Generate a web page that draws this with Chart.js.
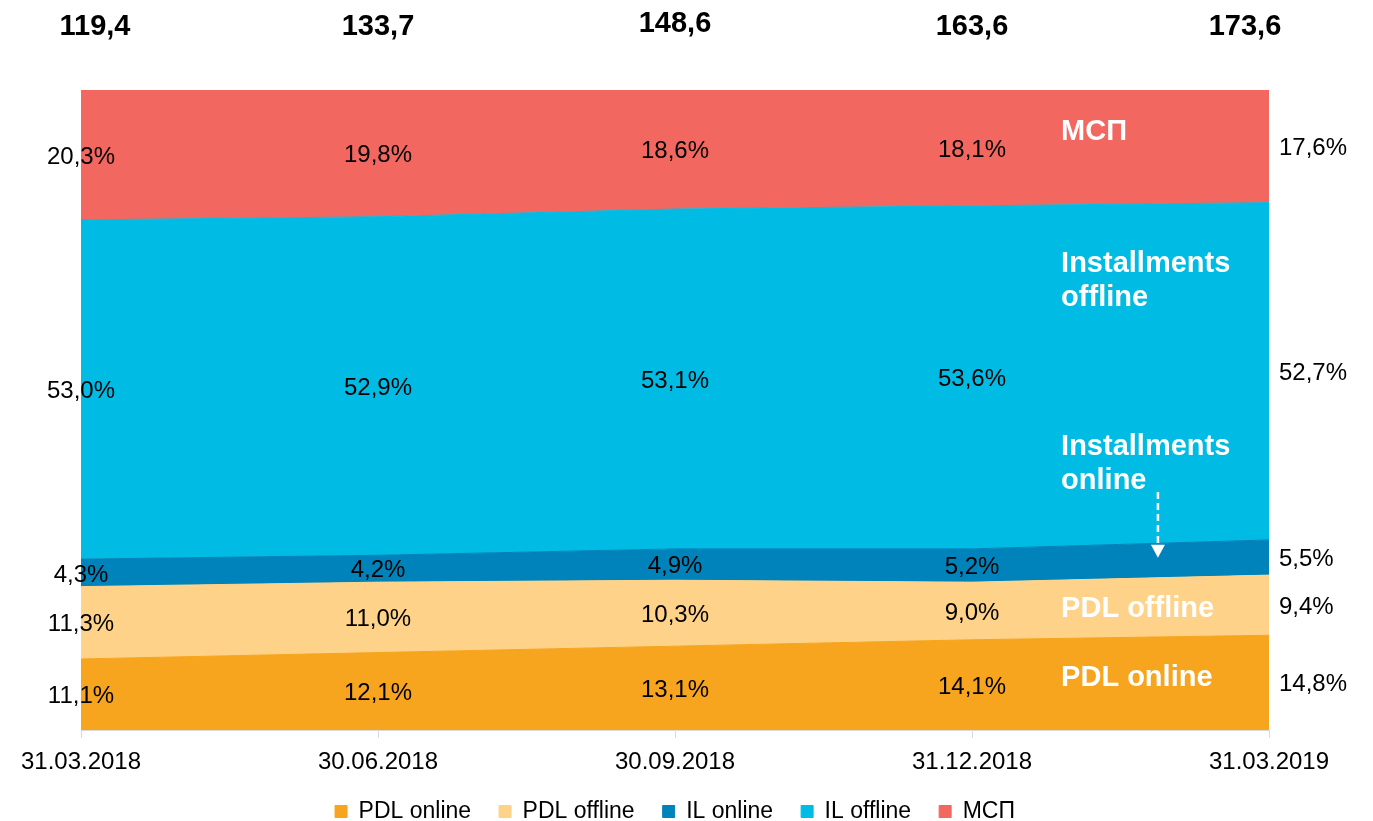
<!DOCTYPE html>
<html>
<head>
<meta charset="utf-8">
<script src="https://cdn.jsdelivr.net/npm/chart.js@4.4.1/dist/chart.umd.min.js"></script>
<style>
  html, body { margin: 0; padding: 0; background: #fff; }
  #wrap { width: 1373px; height: 821px; }
</style>
</head>
<body>
<div id="wrap"><canvas id="chart" width="1373" height="821"></canvas></div>
<script>
// Portfolio structure, share of total (%)
const dates = ["31.03.2018", "30.06.2018", "30.09.2018", "31.12.2018", "31.03.2019"];
const totals = ["119,4", "133,7", "148,6", "163,6", "173,6"];

const pdlOnline = [11.1, 12.1, 13.1, 14.1, 14.8];
const pdlOffline = [11.3, 11.0, 10.3, 9.0, 9.4];
const ilOnline = [4.3, 4.2, 4.9, 5.2, 5.5];
const ilOffline = [53.0, 52.9, 53.1, 53.6, 52.7];
const msp = [20.3, 19.8, 18.6, 18.1, 17.6];

const FONT = '"Liberation Sans", Arial, sans-serif';

function area(label, data, color, fill) {
  return {
    label,
    data,
    fill,
    backgroundColor: color,
    borderColor: color,
    borderWidth: 1,
    pointRadius: 0,
    tension: 0,
  };
}

function fmt(v) {
  return v.toFixed(1).replace(".", ",") + "%";
}

// percentages inside the bands + totals on top
const labelsPlugin = {
  id: "labels",
  afterDatasetsDraw(chart) {
    const { ctx, scales } = chart;
    const x = scales.x;
    const y = scales.y;
    const n = dates.length;
    ctx.save();
    ctx.fillStyle = "#000";
    ctx.textBaseline = "middle";
    ctx.font = "24px " + FONT;

    for (let i = 0; i < n; i++) {
      let base = 0;
      const px = x.getPixelForValue(i);
      chart.data.datasets.forEach((ds) => {
        const v = ds.data[i];
        const py = y.getPixelForValue(base + v / 2) + 2;
        base += v;
        if (i === n - 1) {
          ctx.textAlign = "left";
          ctx.fillText(fmt(v), px + 10, py);
        } else {
          ctx.textAlign = "center";
          ctx.fillText(fmt(v), px, py);
        }
      });
    }

    ctx.font = "bold 29px " + FONT;
    ctx.textAlign = "center";
    totals.forEach((t, i) => {
      let px = x.getPixelForValue(i);
      if (i === 0) px += 14;
      if (i === n - 1) px -= 24;
      ctx.fillText(t, px, i === 2 ? 24 : 27);
    });
    ctx.restore();
  },
};

// white captions on the right side of the area + dashed arrow
const notesPlugin = {
  id: "notes",
  afterDatasetsDraw(chart) {
    const { ctx, scales } = chart;
    const x = scales.x;
    const y = scales.y;
    const notes = [
      { text: "МСП", xi: 3.3, v: 93.4 },
      { text: "Installments", xi: 3.3, v: 72.8 },
      { text: "offline", xi: 3.3, v: 67.5 },
      { text: "Installments", xi: 3.3, v: 44.2 },
      { text: "online", xi: 3.3, v: 38.9 },
      { text: "PDL offline", xi: 3.3, v: 18.9 },
      { text: "PDL online", xi: 3.3, v: 8.1 },
    ];
    ctx.save();
    ctx.fillStyle = "#fff";
    ctx.font = "bold 29px " + FONT;
    ctx.textAlign = "left";
    ctx.textBaseline = "middle";
    notes.forEach((n) => {
      ctx.fillText(n.text, x.getPixelForValue(n.xi), y.getPixelForValue(n.v));
    });

    const ax = x.getPixelForValue(3.626);
    const y0 = y.getPixelForValue(37.2);
    const y1 = y.getPixelForValue(26.9);
    ctx.strokeStyle = "#fff";
    ctx.lineWidth = 2.5;
    ctx.setLineDash([7, 4]);
    ctx.beginPath();
    ctx.moveTo(ax, y0);
    ctx.lineTo(ax, y1 - 12);
    ctx.stroke();
    ctx.setLineDash([]);
    ctx.beginPath();
    ctx.moveTo(ax - 7, y1 - 13);
    ctx.lineTo(ax + 7, y1 - 13);
    ctx.lineTo(ax, y1);
    ctx.closePath();
    ctx.fill();
    ctx.restore();
  },
};

new Chart(document.getElementById("chart").getContext("2d"), {
  type: "line",
  data: {
    labels: dates,
    datasets: [
      area("PDL online", pdlOnline, "#F7A51E", "origin"),
      area("PDL offline", pdlOffline, "#FED389", "-1"),
      area("IL online", ilOnline, "#0083BA", "-1"),
      area("IL offline", ilOffline, "#00BCE4", "-1"),
      area("МСП", msp, "#F2675F", "-1"),
    ],
  },
  options: {
    responsive: false,
    animation: false,
    layout: { padding: { left: 81, right: 104, top: 90, bottom: 0 } },
    plugins: {
      legend: {
        position: "bottom",
        maxHeight: 49,
        labels: {
          color: "#000",
          font: { family: FONT, size: 23 },
          boxWidth: 12,
          boxHeight: 12,
          padding: 28,
        },
      },
      tooltip: { enabled: false },
    },
    scales: {
      x: {
        offset: false,
        afterFit: (scale) => {
          scale.height = 42;
        },
        grid: {
          display: true,
          drawOnChartArea: false,
          drawTicks: true,
          tickLength: 8,
          color: "#d9d9d9",
        },
        border: { display: true, color: "#d9d9d9" },
        ticks: {
          color: "#000",
          font: { family: FONT, size: 24 },
          padding: 10,
          maxRotation: 0,
          autoSkip: false,
        },
      },
      y: {
        display: false,
        stacked: true,
        min: 0,
        max: 100,
      },
    },
  },
  plugins: [labelsPlugin, notesPlugin],
});
</script>
</body>
</html>
